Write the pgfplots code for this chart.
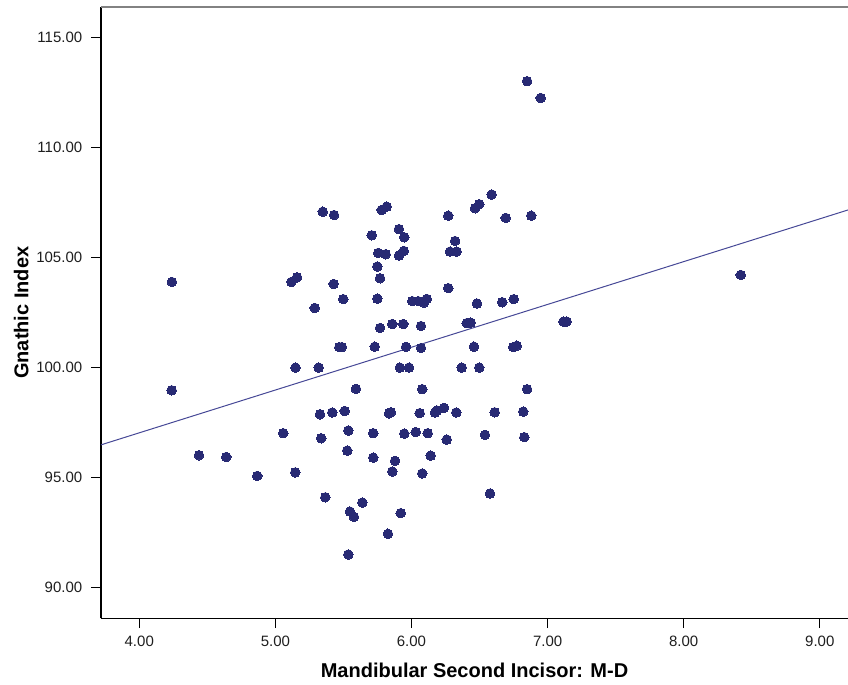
\documentclass[border=0pt]{standalone}
\usepackage{fontspec}
\setmainfont{Liberation Sans}
\usepackage{pgfplots}
\usepackage{pgfplotstable}
\pgfplotsset{compat=1.18}
\definecolor{dot}{RGB}{40,42,116}
\definecolor{fit}{RGB}{70,72,150}
\definecolor{ticktext}{RGB}{30,30,30}
\definecolor{topline}{RGB}{130,130,130}
\pgfplotstableread{
x y
4.240 103.89
4.238 98.97
4.439 96.02
4.639 95.94
4.867 95.08
5.058 97.02
5.148 100.00
5.146 95.24
5.118 103.89
5.159 104.10
5.348 107.08
5.431 106.93
5.781 107.16
5.818 107.31
6.270 106.90
6.467 107.24
6.498 107.42
6.589 107.86
6.692 106.80
6.880 106.90
5.708 106.01
5.908 106.29
5.947 105.92
6.320 105.75
5.756 105.21
5.810 105.15
5.908 105.09
5.943 105.30
6.283 105.27
6.332 105.27
5.749 104.59
5.769 104.06
5.428 103.80
6.270 103.61
5.289 102.71
5.499 103.11
5.749 103.13
6.006 103.02
6.050 103.02
6.092 102.95
6.112 103.12
6.481 102.91
6.667 102.97
6.751 103.11
5.769 101.80
5.859 101.98
5.940 101.98
6.070 101.89
6.406 102.02
6.435 102.04
7.117 102.09
7.140 102.09
5.470 100.93
5.489 100.93
5.730 100.95
5.960 100.94
6.070 100.89
6.459 100.95
6.748 100.93
6.773 100.99
5.318 100.00
5.915 100.00
5.982 100.00
6.369 100.00
6.498 100.00
5.592 99.03
6.079 99.02
6.849 99.02
5.328 97.88
5.418 97.96
5.509 98.03
5.835 97.92
5.849 97.97
6.060 97.93
6.173 97.96
6.187 98.05
6.239 98.17
6.329 97.96
6.611 97.97
6.821 98.00
5.337 96.79
5.536 97.14
5.719 97.02
5.947 97.00
6.031 97.07
6.119 97.02
6.259 96.73
6.540 96.94
6.829 96.84
5.528 96.23
5.719 95.91
5.879 95.76
6.141 96.00
5.859 95.28
6.079 95.19
5.367 94.11
5.548 93.46
5.577 93.22
5.639 93.87
5.921 93.39
6.577 94.28
5.827 92.45
5.536 91.51
6.849 113.01
6.949 112.25
8.419 104.21
}\pts
\begin{document}
\begin{tikzpicture}
\begin{axis}[
  scale only axis, width=560.25pt, height=458.5pt,
  xmin=3.719, xmax=9.207, ymin=88.61, ymax=116.38,
  axis x line*=bottom, axis y line*=left,
  axis line style={-, line width=0.8pt, black},
  xtick={4,5,6,7,8,9},
  xticklabels={4.00,5.00,6.00,7.00,8.00,9.00},
  ytick={90,95,100,105,110,115},
  yticklabels={90.00,95.00,100.00,105.00,110.00,115.00},
  tick align=outside, major tick length=7.3pt,
  every tick/.style={black, line width=0.8pt},
  ticklabel style={font=\fontsize{11.25pt}{13pt}\selectfont, text=ticktext, inner sep=0pt},
  xticklabel style={anchor=north, yshift=-5.6pt},
  yticklabel style={anchor=east, xshift=-6.6pt},
  xlabel={Mandibular Second Incisor: M-D},
  ylabel={Gnathic Index},
  every axis x label/.style={at={(rel axis cs:0.5,0)}, anchor=base, yshift=-44pt,
     font=\bfseries\fontsize{15pt}{18pt}\selectfont, inner sep=0pt},
  every axis y label/.style={at={(rel axis cs:0,0.5)}, xshift=-54.5pt, rotate=90, anchor=base,
     font=\bfseries\fontsize{15pt}{18pt}\selectfont, inner sep=0pt},
  clip=false,
]
\addplot[topline, line width=1.5pt, forget plot] coordinates {(3.719,116.38) (9.207,116.38)};
\addplot[fit, line width=0.75pt] coordinates {(3.719,96.49) (9.207,107.16)};
\addplot[only marks, mark=*, mark size=3.6pt, mark options={fill=dot, draw=dot, line width=0pt}] table[x=x,y=y]{\pts};
\coordinate (pbl) at (rel axis cs:0,0);
\coordinate (ptr) at (rel axis cs:1,1);
\end{axis}
\pgfresetboundingbox
\path ([shift={(-75.75pt,-49.3pt)}]pbl) rectangle ([shift={(0pt,5.25pt)}]ptr);
\end{tikzpicture}
\end{document}
